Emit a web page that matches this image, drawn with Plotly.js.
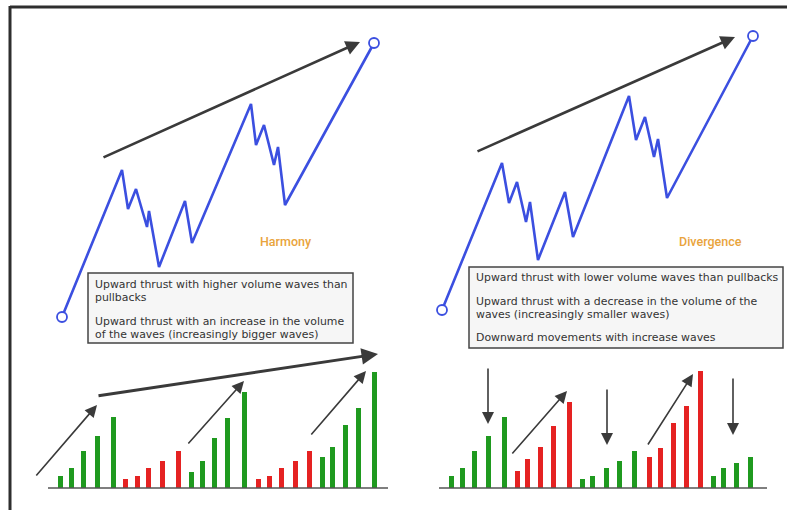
<!DOCTYPE html>
<html>
<head>
<meta charset="utf-8">
<script src="https://cdn.plot.ly/plotly-3.0.1.min.js"></script>
<style>html,body{margin:0;padding:0;background:#fff;}#chart{width:787px;height:510px;}</style>
</head>
<body>
<div id="chart"></div>
<script>
// ---- Price paths (pixel-like units) ----
var harmonyX = [62, 122, 128, 136, 147, 149, 159, 185, 192, 251, 256, 264, 274, 278, 285, 374];
var harmonyY = [317, 170, 209, 189, 227, 211, 267, 201, 243, 104, 145, 125, 165, 147, 205, 43];
var divergenceX = [442, 502, 509, 517, 526, 530, 538, 565, 573, 629, 636, 645, 654, 658, 667, 753];
var divergenceY = [310, 163, 203, 182, 222, 202, 260, 192, 237, 96, 140, 117, 157, 139, 198, 36];

// ---- Volume bars ----
var harmonyBarX = [60, 71, 83, 97, 113, 125, 137, 148, 162, 178, 191, 202, 214, 227, 244, 258, 269, 281, 295, 309, 322, 332, 345, 358, 374];
var harmonyVol = [12, 20, 37, 52, 71, 9, 12, 20, 27, 37, 16, 27, 50, 70, 96, 9, 12, 20, 27, 37, 31, 41, 63, 80, 116];
var harmonyDir = ['up','up','up','up','up','dn','dn','dn','dn','dn','up','up','up','up','up','dn','dn','dn','dn','dn','up','up','up','up','up'];
var divergenceBarX = [451, 462, 474, 488, 504, 517, 527, 540, 553, 569, 582, 592, 606, 619, 634, 649, 660, 673, 686, 700, 713, 723, 736, 750];
var divergenceVol = [12, 20, 37, 52, 71, 17, 29, 41, 62, 86, 9, 12, 20, 27, 37, 31, 40, 65, 82, 117, 12, 20, 25, 31];
var divergenceDir = ['up','up','up','up','up','dn','dn','dn','dn','dn','up','up','up','up','up','dn','dn','dn','dn','dn','up','up','up','up'];

// ---- Texts ----
var panelLabels = ['Harmony', 'Divergence'];
var harmonyNotes = ['Upward thrust with higher volume waves than', 'pullbacks', 'Upward thrust with an increase in the volume', 'of the waves (increasingly bigger waves)'];
var divergenceNotes = ['Upward thrust with lower volume waves than pullbacks', 'Upward thrust with a decrease in the volume of the', 'waves (increasingly smaller waves)', 'Downward movements with increase waves'];

// ---- Styling / placement ----
var BLUE = '#3b4fe0', GREEN = '#1f9a1f', RED = '#e52222', DARK = '#3a3a3a', ORANGE = '#e9a43c';
var baseY = 488;
function colorsOf(d){ return d.map(function(v){ return v === 'up' ? GREEN : RED; }); }

var traces = [
  {x: harmonyX, y: harmonyY, type: 'scatter', mode: 'lines', line: {color: BLUE, width: 2.6}, hoverinfo: 'skip'},
  {x: divergenceX, y: divergenceY, type: 'scatter', mode: 'lines', line: {color: BLUE, width: 2.6}, hoverinfo: 'skip'},
  {x: [harmonyX[0], harmonyX[harmonyX.length-1], divergenceX[0], divergenceX[divergenceX.length-1]],
   y: [harmonyY[0], harmonyY[harmonyY.length-1], divergenceY[0], divergenceY[divergenceY.length-1]],
   type: 'scatter', mode: 'markers', marker: {symbol: 'circle', size: 10, color: '#ffffff', line: {color: BLUE, width: 1.8}}, hoverinfo: 'skip'},
  {x: harmonyBarX, y: harmonyVol, type: 'bar', xaxis: 'x', yaxis: 'y2', width: 5, marker: {color: colorsOf(harmonyDir)}, hoverinfo: 'skip'},
  {x: divergenceBarX, y: divergenceVol, type: 'bar', xaxis: 'x', yaxis: 'y2', width: 5, marker: {color: colorsOf(divergenceDir)}, hoverinfo: 'skip'}
];

// arrows: [tailX, tailY, headX, headY, width]
var arrows = [
  [102, 158, 360, 42, 2.6],
  [476, 152, 735, 37, 2.6],
  [35, 477, 97, 405, 1.6],
  [97, 396, 378, 354, 3],
  [187, 445, 244, 381, 1.6],
  [310, 436, 366, 371, 1.6],
  [488, 367, 488, 424, 1.6],
  [607, 388, 607, 445, 1.6],
  [733, 377, 733, 435, 1.6],
  [511, 455, 567, 391, 1.6],
  [647, 446, 693, 374, 1.6]
];

var annotations = arrows.map(function(a){
  return {x: a[2], y: a[3], ax: a[0], ay: a[1], xref: 'x', yref: 'y', axref: 'x', ayref: 'y',
          text: '', showarrow: true, arrowhead: 2, arrowsize: a[4] > 2 ? 1.1 : 1.5, arrowwidth: a[4], arrowcolor: DARK, standoff: 0, startstandoff: 0};
});

annotations.push({x: 286, y: 241, xref: 'x', yref: 'y', text: panelLabels[0], showarrow: false, xanchor: 'center', yanchor: 'middle',
  font: {family: 'Roboto, sans-serif', size: 12.5, color: ORANGE, weight: 500}});
annotations.push({x: 710, y: 241, xref: 'x', yref: 'y', text: panelLabels[1], showarrow: false, xanchor: 'center', yanchor: 'middle',
  font: {family: 'Roboto, sans-serif', size: 12.5, color: ORANGE, weight: 500}});

var noteFont = {family: '"DejaVu Sans", sans-serif', size: 10.9, color: '#333333'};
var harmonyNoteY = [284, 297, 321, 334];
var divergenceNoteY = [277, 301.5, 314.5, 337];
harmonyNotes.forEach(function(t, i){
  annotations.push({x: 94, y: harmonyNoteY[i], xref: 'x', yref: 'y', text: t, showarrow: false, xanchor: 'left', yanchor: 'middle',
    borderpad: 0, font: noteFont});
});
divergenceNotes.forEach(function(t, i){
  annotations.push({x: 475, y: divergenceNoteY[i], xref: 'x', yref: 'y', text: t, showarrow: false, xanchor: 'left', yanchor: 'middle',
    borderpad: 0, font: noteFont});
});

var shapes = [
  // frame
  {type: 'line', xref: 'paper', yref: 'paper', x0: 10/787, x1: 1, y0: 1 - 7/510, y1: 1 - 7/510, line: {color: '#2e2e2e', width: 3}},
  {type: 'line', xref: 'paper', yref: 'paper', x0: 10/787, x1: 10/787, y0: 0, y1: 1 - 6/510, line: {color: '#2e2e2e', width: 3}},
  // note boxes
  {type: 'rect', xref: 'x', yref: 'y', x0: 88, x1: 353, y0: 273, y1: 343, line: {color: '#444', width: 1.5}, fillcolor: '#f6f6f6', layer: 'below'},
  {type: 'rect', xref: 'x', yref: 'y', x0: 469, x1: 783, y0: 267, y1: 348, line: {color: '#444', width: 1.5}, fillcolor: '#f6f6f6', layer: 'below'},
  // baselines
  {type: 'line', xref: 'x', yref: 'y', x0: 48, x1: 388, y0: baseY, y1: baseY, line: {color: '#555', width: 1.5}},
  {type: 'line', xref: 'x', yref: 'y', x0: 439, x1: 767, y0: baseY, y1: baseY, line: {color: '#555', width: 1.5}}
];

var layout = {
  width: 787, height: 510,
  margin: {l: 0, r: 0, t: 0, b: 0, pad: 0},
  paper_bgcolor: '#ffffff', plot_bgcolor: 'rgba(0,0,0,0)',
  showlegend: false,
  xaxis: {range: [0, 787], domain: [0, 1], visible: false, fixedrange: true},
  yaxis: {range: [510, 0], domain: [0, 1], visible: false, fixedrange: true},
  yaxis2: {range: [0, 128], domain: [(510 - baseY)/510, (510 - baseY + 128)/510], anchor: 'x', visible: false, fixedrange: true},
  shapes: shapes,
  annotations: annotations,
  bargap: 0
};

Plotly.newPlot('chart', traces, layout, {displayModeBar: false, staticPlot: true});
</script>
</body>
</html>
